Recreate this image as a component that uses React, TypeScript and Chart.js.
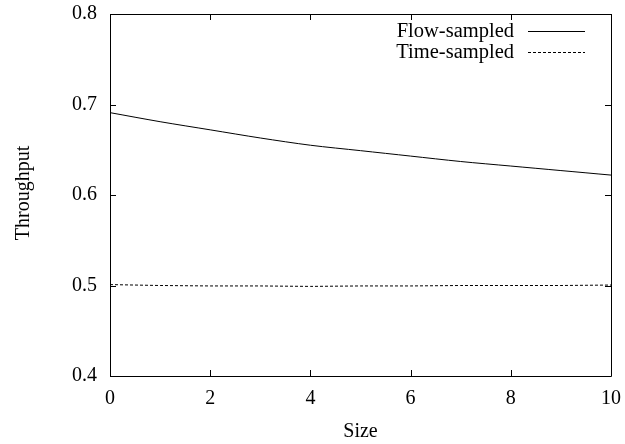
import React, { useEffect, useRef } from "react";
import { Chart, registerables } from "chart.js";

Chart.register(...registerables);

const sizes = [0, 1, 2, 3, 4, 5, 6, 7, 8, 9, 10];
const flowSampled = [0.691, 0.681, 0.672, 0.663, 0.655, 0.649, 0.643, 0.637, 0.632, 0.627, 0.622];
const timeSampled = [0.501, 0.5, 0.4995, 0.4995, 0.499, 0.4995, 0.4995, 0.5, 0.5, 0.5, 0.5005];
const seriesNames = ["Flow-sampled", "Time-sampled"];
const xTitle = "Size";
const yTitle = "Throughput";

const FONT = "'Liberation Serif', 'Times New Roman', serif";

const framePlugin = {
  id: "gnuframe",
  afterDraw(chart: any) {
    const { ctx, chartArea: a, scales } = chart;
    const xs = scales.x;
    const ys = scales.y;
    const tl = 6;
    ctx.save();
    ctx.strokeStyle = "#000";
    ctx.lineWidth = 1;
    ctx.beginPath();
    ctx.rect(a.left + 0.5, a.top + 0.5, a.right - a.left, a.bottom - a.top);
    ctx.stroke();
    ctx.beginPath();
    xs.ticks.forEach((t: any) => {
      const px = Math.round(xs.getPixelForValue(t.value)) + 0.5;
      ctx.moveTo(px, a.bottom);
      ctx.lineTo(px, a.bottom - tl);
      ctx.moveTo(px, a.top);
      ctx.lineTo(px, a.top + tl);
    });
    ys.ticks.forEach((t: any) => {
      const py = Math.round(ys.getPixelForValue(t.value)) + 0.5;
      ctx.moveTo(a.left, py);
      ctx.lineTo(a.left + tl, py);
      ctx.moveTo(a.right, py);
      ctx.lineTo(a.right - tl, py);
    });
    ctx.stroke();

    // axis titles
    ctx.fillStyle = "#000";
    ctx.font = `20px ${FONT}`;
    ctx.textAlign = "center";
    ctx.textBaseline = "middle";
    ctx.fillText(xTitle, (a.left + a.right) / 2, 432);
    ctx.save();
    ctx.translate(24, 193);
    ctx.rotate(-Math.PI / 2);
    ctx.fillText(yTitle, 0, 0);
    ctx.restore();

    // legend
    const rows = [31, 52];
    ctx.font = `20.5px ${FONT}`;
    chart.data.datasets.forEach((ds: any, i: number) => {
      const y = rows[i];
      ctx.textAlign = "right";
      ctx.textBaseline = "middle";
      ctx.fillText(ds.label, 514, y + 1);
      ctx.beginPath();
      ctx.setLineDash(ds.borderDash || []);
      ctx.lineWidth = 1;
      ctx.moveTo(528, y + 0.5);
      ctx.lineTo(585, y + 0.5);
      ctx.stroke();
      ctx.setLineDash([]);
    });
    ctx.restore();
  },
};

export default function App() {
  const ref = useRef<HTMLCanvasElement>(null);
  useEffect(() => {
    const chart = new Chart(ref.current!, {
      type: "line",
      data: {
        labels: sizes,
        datasets: [
          {
            label: seriesNames[0],
            data: sizes.map((s, i) => ({ x: s, y: flowSampled[i] })),
            borderColor: "#000",
            borderWidth: 1,
            pointRadius: 0,
            tension: 0.3,
            fill: false,
          },
          {
            label: seriesNames[1],
            data: sizes.map((s, i) => ({ x: s, y: timeSampled[i] })),
            borderColor: "#000",
            borderWidth: 1,
            borderDash: [3, 2],
            pointRadius: 0,
            tension: 0,
            fill: false,
          },
        ],
      },
      options: {
        animation: false,
        responsive: false,
        maintainAspectRatio: false,
        layout: { padding: { top: 14, right: 14, left: 0, bottom: 0 } },
        plugins: { legend: { display: false }, tooltip: { enabled: false } },
        scales: {
          x: {
            type: "linear",
            min: 0,
            max: 10,
            ticks: {
              stepSize: 2,
              padding: 11,
              color: "#000",
              font: { family: FONT, size: 20 },
              maxRotation: 0,
            },
            grid: { display: false, drawTicks: false },
            border: { display: false },
            afterFit: (s: any) => {
              s.height = 68;
              s.paddingLeft = 0;
              s.paddingRight = 0;
            },
          },
          y: {
            type: "linear",
            min: 0.4,
            max: 0.8,
            ticks: {
              stepSize: 0.1,
              padding: 13,
              color: "#000",
              font: { family: FONT, size: 20 },
              callback: (v: any) => Number(v).toFixed(1),
            },
            grid: { display: false, drawTicks: false },
            border: { display: false },
            afterFit: (s: any) => {
              s.width = 110;
              s.paddingTop = 0;
              s.paddingBottom = 0;
            },
          },
        },
      },
      plugins: [framePlugin],
    });
    return () => chart.destroy();
  }, []);
  return (
    <div style={{ position: "fixed", left: 0, top: 0, width: 625, height: 444, background: "#fff" }}>
      <canvas ref={ref} width={625} height={444} style={{ display: "block" }} />
    </div>
  );
}
